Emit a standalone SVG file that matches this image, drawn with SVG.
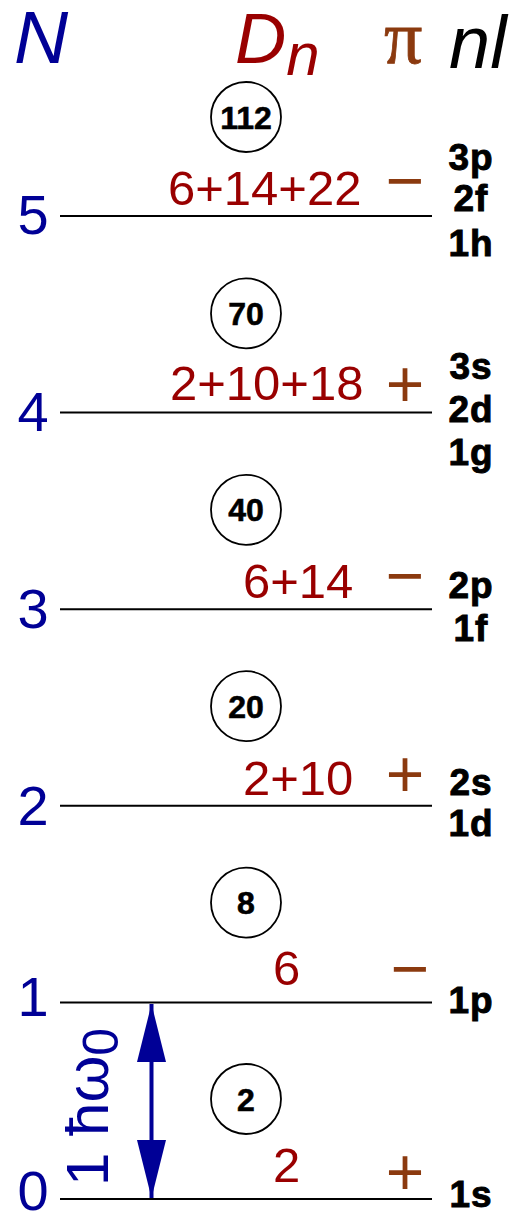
<svg xmlns="http://www.w3.org/2000/svg" width="513" height="1213" viewBox="0 0 513 1213">
<style>
.lvl{stroke:#000;stroke-width:2;fill:none}
.N{font-family:"Liberation Sans",Arial,sans-serif;font-size:56px;fill:#000096;text-anchor:middle}
.dn{font-family:"Liberation Sans",Arial,sans-serif;font-size:49px;fill:#990000}
.pi{font-family:"Liberation Sans",Arial,sans-serif;font-size:66px;fill:#8B3A0F;text-anchor:middle}
.nl{font-family:"Liberation Sans",Arial,sans-serif;font-size:37px;font-weight:bold;fill:#000;stroke:#000;stroke-width:0.9;text-anchor:middle;letter-spacing:1px}
.cir{fill:#fff;stroke:#000;stroke-width:1.8}
.ct{font-family:"Liberation Sans",Arial,sans-serif;font-size:32px;font-weight:bold;fill:#000;stroke:#000;stroke-width:0.6;text-anchor:middle}
</style>
<defs>
<marker id="ah" markerUnits="userSpaceOnUse" markerWidth="58" markerHeight="30" refX="58" refY="15" orient="auto-start-reverse" viewBox="0 0 58 30">
<path d="M0,0.5 L58,15 L0,29.5 z" fill="#000096"/>
</marker>
</defs>
<rect width="513" height="1213" fill="#fff"/>
<g id="header">
<text x="14" y="63" font-family="Liberation Sans,Arial,sans-serif" font-style="italic" font-size="75" fill="#000096">N</text>
<text x="235" y="63" font-family="Liberation Sans,Arial,sans-serif" font-style="italic" font-size="71" fill="#990000">D<tspan dy="12" font-size="60">n</tspan></text>
<text x="384" y="63" font-family="Liberation Serif,Times New Roman,serif" font-size="76" fill="#8B3A0F" stroke="#8B3A0F" stroke-width="0.8">π</text>
<text x="449" y="68" font-family="Liberation Sans,Arial,sans-serif" font-style="italic" font-size="74" fill="#000">nl</text>
</g>
<g id="connectors">
<line class="lvl" x1="60" y1="216" x2="432" y2="216"/>
<line class="lvl" x1="60" y1="412.6" x2="432" y2="412.6"/>
<line class="lvl" x1="60" y1="609.2" x2="432" y2="609.2"/>
<line class="lvl" x1="60" y1="805.8" x2="432" y2="805.8"/>
<line class="lvl" x1="60" y1="1002.4" x2="432" y2="1002.4"/>
<line class="lvl" x1="60" y1="1199" x2="432" y2="1199"/>
<line x1="151.5" y1="1004" x2="151.5" y2="1198" stroke="#000096" stroke-width="4" marker-start="url(#ah)" marker-end="url(#ah)"/>
</g>
<g id="level5">
<text class="N" x="33" y="234">5</text>
<text class="dn" x="168" y="205">6+14+22</text>
<text class="pi" x="405" y="203">−</text>
<text class="nl" x="471" y="170">3p</text>
<text class="nl" x="471" y="211">2f</text>
<text class="nl" x="471" y="256">1h</text>
</g>
<g id="level4">
<text class="N" x="33" y="431">4</text>
<text class="dn" x="170" y="400">2+10+18</text>
<text class="pi" x="405" y="407">+</text>
<text class="nl" x="471" y="379">3s</text>
<text class="nl" x="471" y="422">2d</text>
<text class="nl" x="471" y="465">1g</text>
</g>
<g id="level3">
<text class="N" x="33" y="628">3</text>
<text class="dn" x="243" y="598">6+14</text>
<text class="pi" x="405" y="598">−</text>
<text class="nl" x="471" y="598">2p</text>
<text class="nl" x="471" y="641">1f</text>
</g>
<g id="level2">
<text class="N" x="33" y="825">2</text>
<text class="dn" x="243" y="795">2+10</text>
<text class="pi" x="405" y="797">+</text>
<text class="nl" x="471" y="795">2s</text>
<text class="nl" x="471" y="836">1d</text>
</g>
<g id="level1">
<text class="N" x="33" y="1016">1</text>
<text class="dn" x="273" y="985">6</text>
<text class="pi" x="410" y="991">−</text>
<text class="nl" x="471" y="1013">1p</text>
</g>
<g id="level0">
<text class="N" x="33" y="1210">0</text>
<text class="dn" x="273" y="1182">2</text>
<text class="pi" x="405" y="1195">+</text>
<text class="nl" x="471" y="1207">1s</text>
</g>
<g id="shell112"><circle class="cir" cx="246" cy="117" r="35"/><text class="ct" x="246" y="128.5">112</text></g>
<g id="shell70"><circle class="cir" cx="246" cy="313.4" r="35"/><text class="ct" x="246" y="324.9">70</text></g>
<g id="shell40"><circle class="cir" cx="246" cy="509.8" r="35"/><text class="ct" x="246" y="521.3">40</text></g>
<g id="shell20"><circle class="cir" cx="246" cy="706.2" r="35"/><text class="ct" x="246" y="717.7">20</text></g>
<g id="shell8"><circle class="cir" cx="246" cy="902.6" r="35"/><text class="ct" x="246" y="914.1">8</text></g>
<g id="shell2"><circle class="cir" cx="246" cy="1099" r="35"/><text class="ct" x="246" y="1110.5">2</text></g>
<g id="spacing">
<text transform="translate(108,1186) rotate(-90)" font-family="Liberation Sans,Arial,sans-serif" font-size="60" fill="#000096">1 ħω<tspan dy="10" font-size="50">0</tspan></text>
</g>
</svg>
